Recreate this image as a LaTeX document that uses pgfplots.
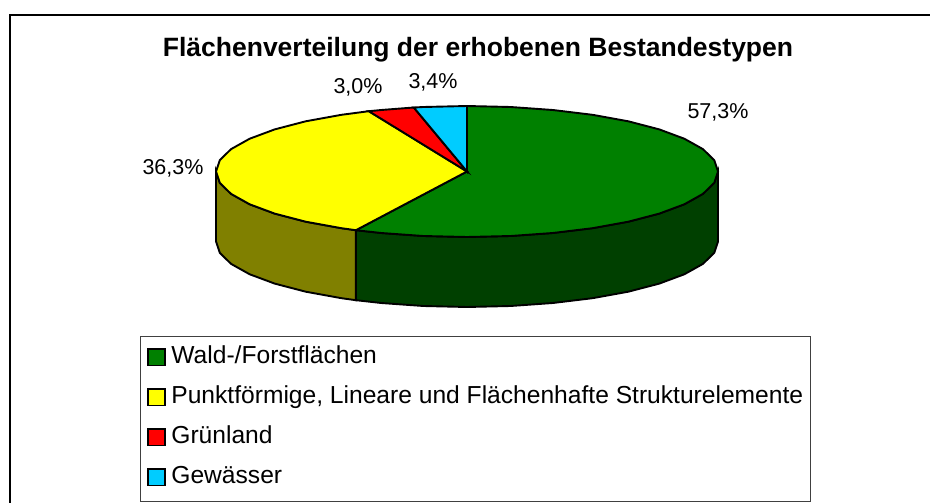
\documentclass[border=0pt]{standalone}
\usepackage{pgfplots}
\pgfplotsset{compat=1.18}
\usepackage{fontspec}
\setmainfont{Liberation Sans}
\definecolor{wald}{HTML}{008000}
\definecolor{waldd}{HTML}{004000}
\definecolor{punkt}{HTML}{FFFF00}
\definecolor{punktd}{HTML}{808000}
\definecolor{gruen}{HTML}{FF0000}
\definecolor{gew}{HTML}{00CCFF}
\begin{document}
\begin{tikzpicture}[x=1pt,y=1pt]
\begin{axis}[
  scale only axis, width=930pt, height=503pt,
  xmin=0, xmax=930, ymin=0, ymax=503, y dir=reverse,
  axis lines=none,
  legend cell align=left,
  area legend,
  legend image code/.code={\draw[#1,line width=1.2pt,draw=black] (1pt,-2pt) rectangle (18pt,14.5pt);\path[draw=none,fill=none] (0pt,0pt) -- (23.5pt,0pt);},
  legend style={at={(axis cs:140,336)},anchor=north west,draw=black!75,line width=0.8pt,
    font=\fontsize{24.6}{28}\selectfont,inner xsep=6.5pt,inner ysep=10pt,
    /tikz/every even column/.append style={column sep=0pt},
    row sep=15pt,nodes={inner sep=1pt,anchor=base west,text height=16pt,text depth=7pt}},
]
% page
\addplot[forget plot,fill=white,draw=none] coordinates {(0,0)(930,0)(930,503)(0,503)} -- cycle;
% frame (top and left only)
\addplot[forget plot,black,line width=2.4pt] coordinates {(930,15)(10,15)(10,503)};
% side walls
\addplot[forget plot,fill=waldd,draw=black,line width=1.9pt] coordinates {
(718,171.5)(718,241.5)(714.2,252.9)(702.9,263.9)(684.4,274.25)(659.3,283.6)(628.3,291.7)(592.5,298.2)(552.8,303)(510.6,306)(467,307)(423.4,306)(381.2,303)(355.9,300.2)
(355.9,230.2)(381.2,233)(423.4,236)(467,237)(510.6,236)(552.8,233)(592.5,228.2)(628.3,221.7)(659.3,213.6)(684.4,204.25)(702.9,193.9)(714.2,182.9)} -- cycle;
\addplot[forget plot,fill=punktd,draw=black,line width=1.9pt] coordinates {
(355.9,230.2)(355.9,300.2)(341.5,298.2)(305.7,291.7)(274.7,283.6)(249.6,274.25)(231.1,263.9)(219.8,252.9)(216,241.5)
(216,171.5)(219.8,182.9)(231.1,193.9)(249.6,204.25)(274.7,213.6)(305.7,221.7)(341.5,228.2)} -- cycle;
% top surface: one slice per share
\addplot[fill=wald,draw=black,line width=1.9pt] coordinates {
(467,171.5)(467,106)(510.6,107)(552.8,110)(592.5,114.8)(628.3,121.3)(659.3,129.4)(684.4,138.75)(702.9,149.1)(714.2,160.1)(718,171.5)(714.2,182.9)(702.9,193.9)(684.4,204.25)(659.3,213.6)(628.3,221.7)(592.5,228.2)(552.8,233)(510.6,236)(467,237)(423.4,236)(381.2,233)(355.9,230.2)} -- cycle;
\addlegendentry{Wald-/Forstflächen}
\addplot[fill=punkt,draw=black,line width=1.9pt] coordinates {
(467,171.5)(355.9,230.2)(341.5,228.2)(305.7,221.7)(274.7,213.6)(249.6,204.25)(231.1,193.9)(219.8,182.9)(216,171.5)(219.8,160.1)(231.1,149.1)(249.6,138.75)(274.7,129.4)(305.7,121.3)(341.5,114.8)(368.8,111.2)} -- cycle;
\addlegendentry{Punktförmige, Lineare und Flächenhafte Strukturelemente}
\addplot[fill=gruen,draw=black,line width=1.9pt] coordinates {
(467,171.5)(368.8,111.2)(381.2,110)(413.8,107.5)} -- cycle;
\addlegendentry{Grünland}
\addplot[fill=gew,draw=black,line width=1.9pt] coordinates {
(467,171.5)(413.8,107.5)(423.4,107)(467,106)} -- cycle;
\addlegendentry{Gewässer}
% texts
\node[font=\bfseries\fontsize{26.5}{30}\selectfont,anchor=base] at (axis cs:478,57) {Flächenverteilung der erhobenen Bestandestypen};
\node[font=\fontsize{21.5}{24}\selectfont,anchor=center] at (axis cs:358,87) {3,0\%};
\node[font=\fontsize{21.5}{24}\selectfont,anchor=center] at (axis cs:433,82) {3,4\%};
\node[font=\fontsize{21.5}{24}\selectfont,anchor=center] at (axis cs:718,112) {57,3\%};
\node[font=\fontsize{21.5}{24}\selectfont,anchor=center] at (axis cs:173,168) {36,3\%};
\end{axis}
\end{tikzpicture}
\end{document}
